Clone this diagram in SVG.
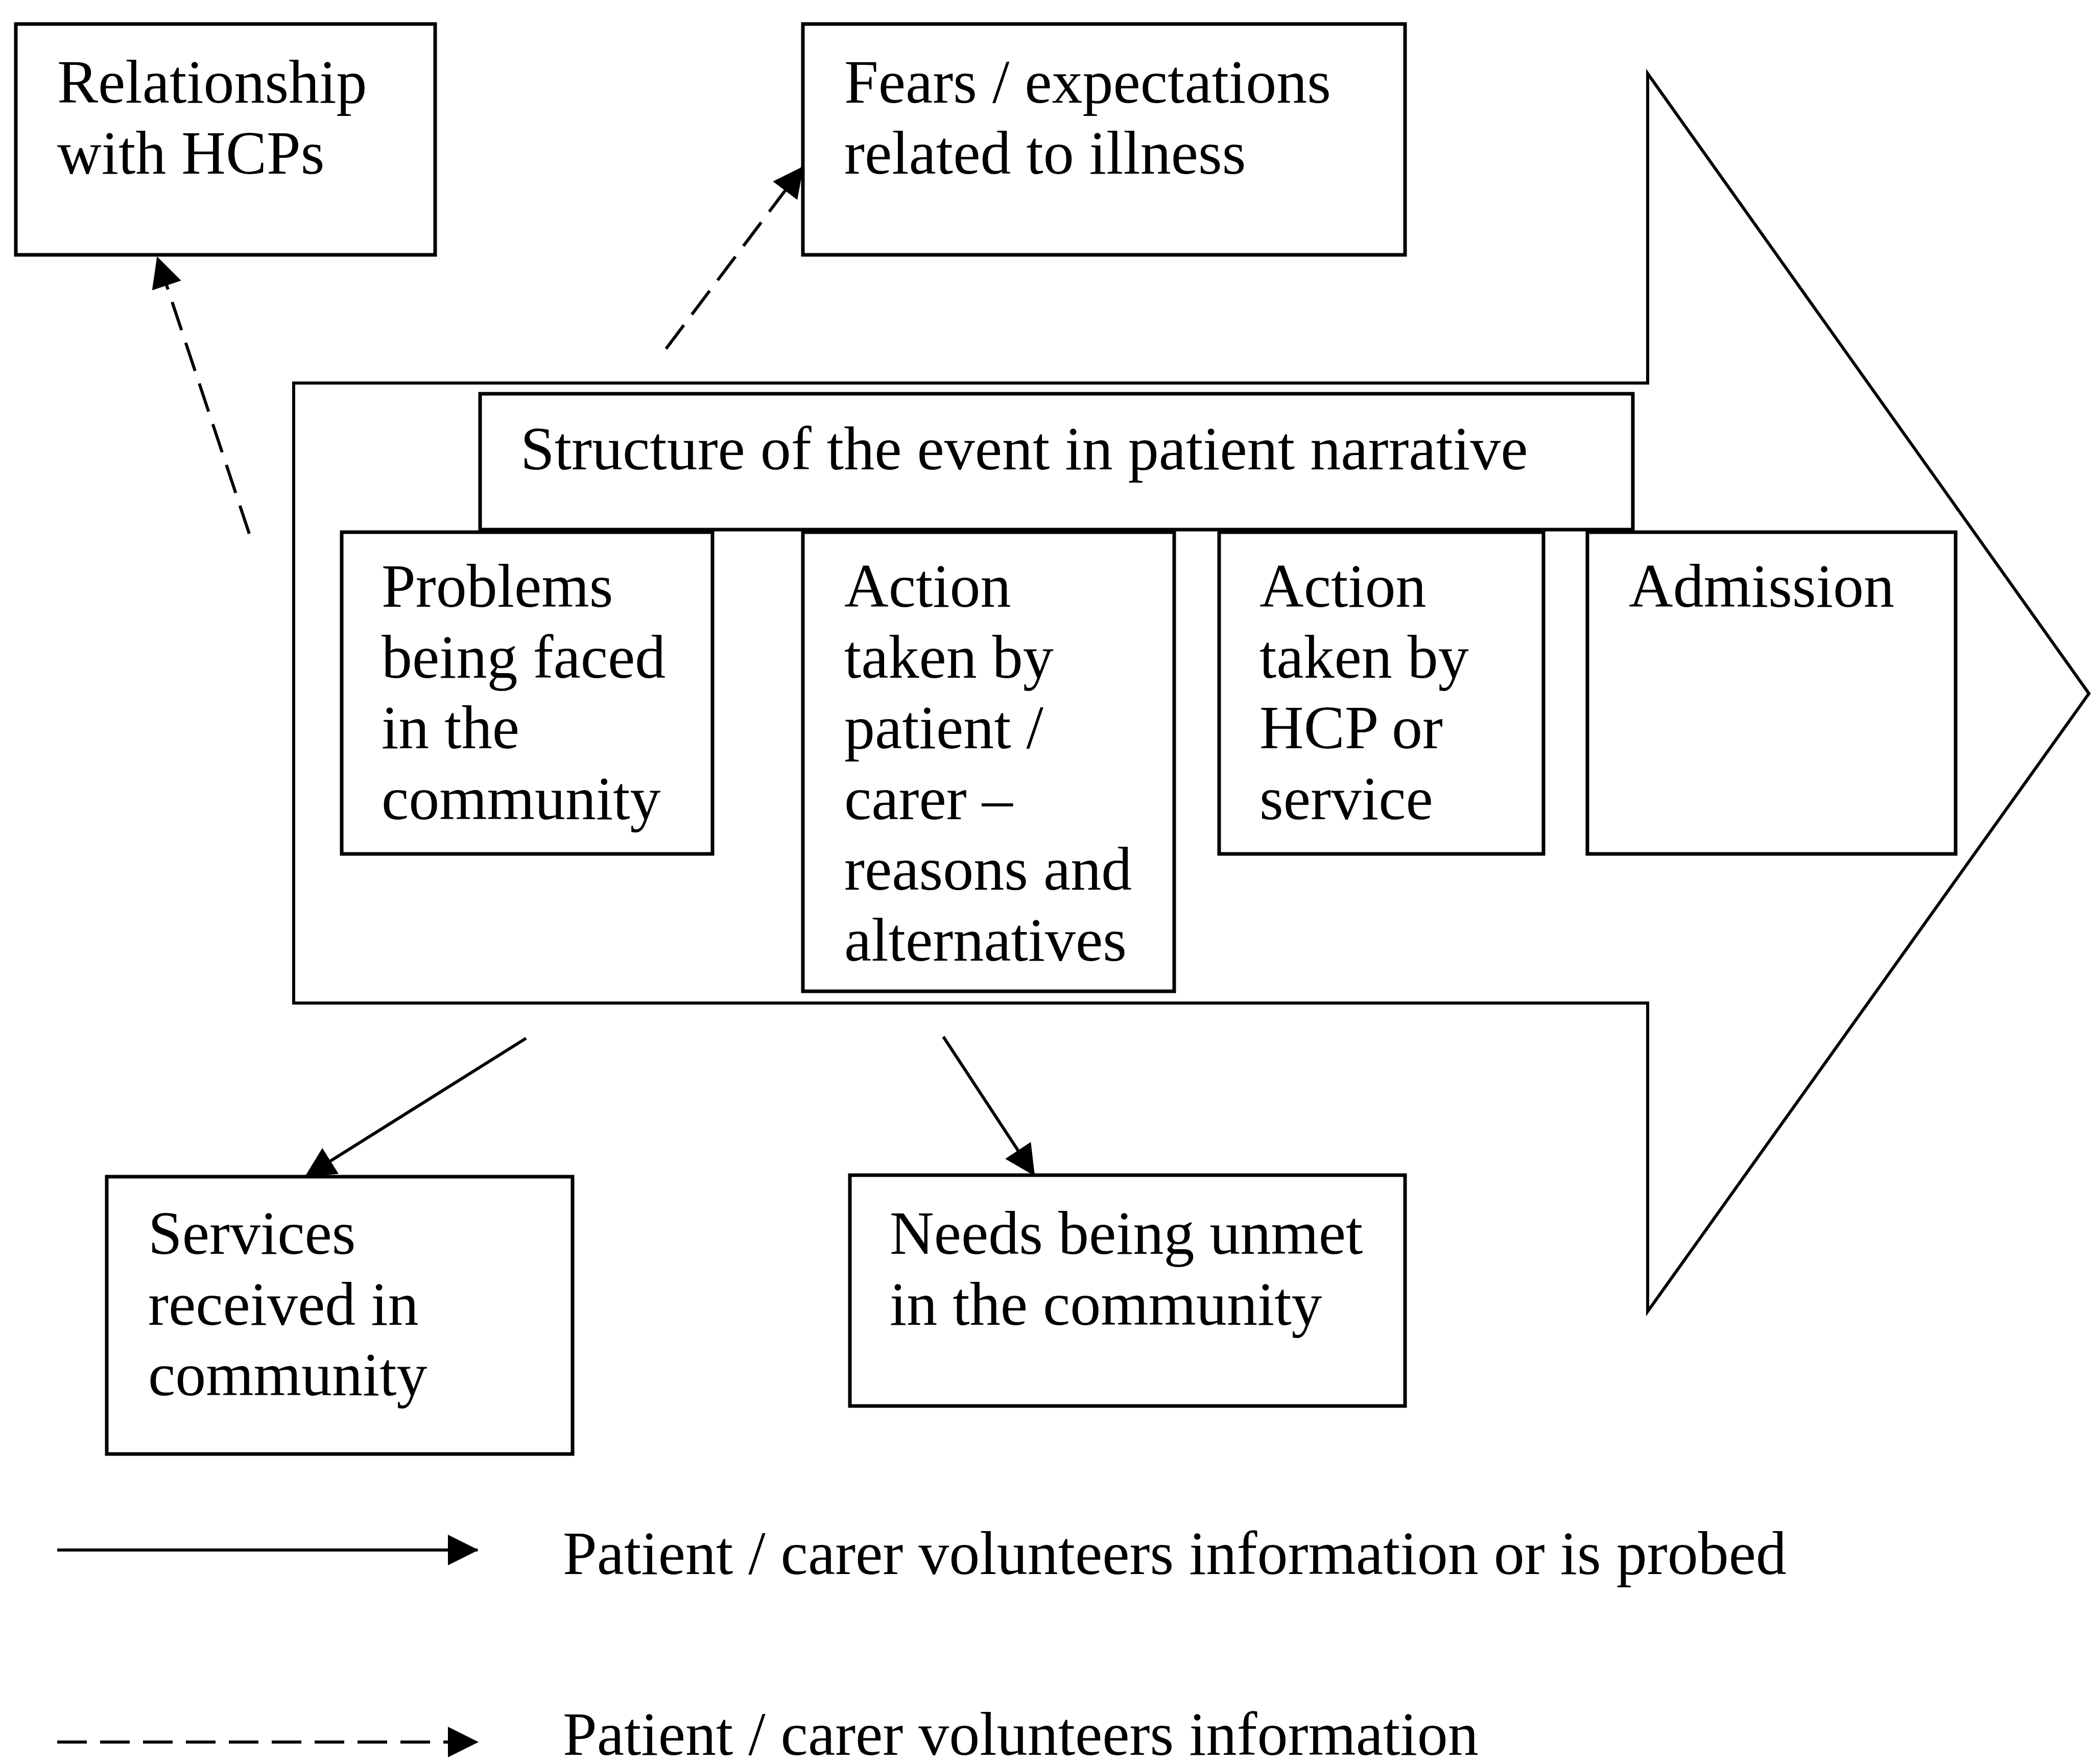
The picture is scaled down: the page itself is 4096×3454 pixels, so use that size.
<svg xmlns="http://www.w3.org/2000/svg" width="4096" height="3454" viewBox="0 0 4096 3454">
  <style>
    .box { fill: #fff; stroke: #000; stroke-width: 7; }
    .big { fill: #fff; stroke: #000; stroke-width: 6; stroke-linejoin: miter; }
    .lbl { font-family: "Liberation Serif", "Times New Roman", serif; font-size: 120px; fill: #000; }
    .solid { stroke: #000; stroke-width: 6; fill: none; }
    .dash { stroke: #000; stroke-width: 6; fill: none; stroke-dasharray: 58 26; }
  </style>
  <defs>
    <marker id="head" markerUnits="userSpaceOnUse" markerWidth="60" markerHeight="60" refX="58" refY="30" orient="auto" viewBox="0 0 60 60">
      <path d="M0,0 L60,30 L0,60 Z" fill="#000"/>
    </marker>
  </defs>
  <rect width="4096" height="3454" fill="#fff"/>

  <!-- big process arrow -->
  <g id="process-arrow">
    <path class="big" d="M575,750 H3226 V144 L4090,1358 L3226,2568 V1964 H575 Z"/>
  </g>

  <g id="rel-hcps">
    <rect class="box" x="31" y="47" width="821" height="452"/>
    <text class="lbl" x="112" y="201">Relationship</text>
    <text class="lbl" x="112" y="340">with HCPs</text>
  </g>

  <g id="fears">
    <rect class="box" x="1572" y="47" width="1179" height="452"/>
    <text class="lbl" x="1653" y="201">Fears / expectations</text>
    <text class="lbl" x="1653" y="340">related to illness</text>
  </g>

  <g id="structure">
    <rect class="box" x="940" y="771" width="2257" height="266"/>
    <text class="lbl" x="1019" y="919">Structure of the event in patient narrative</text>
  </g>

  <g id="problems">
    <rect class="box" x="669" y="1042" width="726" height="630"/>
    <text class="lbl" x="747" y="1188">Problems</text>
    <text class="lbl" x="747" y="1327">being faced</text>
    <text class="lbl" x="747" y="1465">in the</text>
    <text class="lbl" x="747" y="1604">community</text>
  </g>

  <g id="action-patient">
    <rect class="box" x="1572" y="1042" width="727" height="899"/>
    <text class="lbl" x="1653" y="1188">Action</text>
    <text class="lbl" x="1653" y="1327">taken by</text>
    <text class="lbl" x="1653" y="1465">patient /</text>
    <text class="lbl" x="1653" y="1604">carer –</text>
    <text class="lbl" x="1653" y="1742">reasons and</text>
    <text class="lbl" x="1653" y="1881">alternatives</text>
  </g>

  <g id="action-hcp">
    <rect class="box" x="2387" y="1042" width="635" height="630"/>
    <text class="lbl" x="2466" y="1188">Action</text>
    <text class="lbl" x="2466" y="1327">taken by</text>
    <text class="lbl" x="2466" y="1465">HCP or</text>
    <text class="lbl" x="2466" y="1604">service</text>
  </g>

  <g id="admission">
    <rect class="box" x="3108" y="1042" width="721" height="630"/>
    <text class="lbl" x="3189" y="1188">Admission</text>
  </g>

  <g id="services">
    <rect class="box" x="209" y="2304" width="912" height="543"/>
    <text class="lbl" x="290" y="2455">Services</text>
    <text class="lbl" x="290" y="2594">received in</text>
    <text class="lbl" x="290" y="2732">community</text>
  </g>

  <g id="needs">
    <rect class="box" x="1664" y="2301" width="1087" height="452"/>
    <text class="lbl" x="1742" y="2455">Needs being unmet</text>
    <text class="lbl" x="1742" y="2594">in the community</text>
  </g>

  <!-- connectors -->
  <g id="connectors">
    <line class="dash" x1="488" y1="1045" x2="308" y2="504" marker-end="url(#head)"/>
    <line class="dash" x1="1304" y1="683" x2="1572" y2="327" stroke-dasharray="40 22" marker-end="url(#head)"/>
    <line class="solid" x1="1030" y1="2033" x2="598" y2="2304" marker-end="url(#head)"/>
    <line class="solid" x1="1847" y1="2030" x2="2025" y2="2301" marker-end="url(#head)"/>
  </g>

  <!-- legend -->
  <g id="legend">
    <line class="solid" x1="112" y1="3035" x2="935" y2="3035" stroke-width="7" marker-end="url(#head)"/>
    <text class="lbl" x="1102" y="3082">Patient / carer volunteers information or is probed</text>
    <line class="dash" x1="112" y1="3411" x2="935" y2="3411" stroke-width="7" stroke-dasharray="57 27" marker-end="url(#head)"/>
    <text class="lbl" x="1102" y="3436">Patient / carer volunteers information</text>
  </g>
</svg>
